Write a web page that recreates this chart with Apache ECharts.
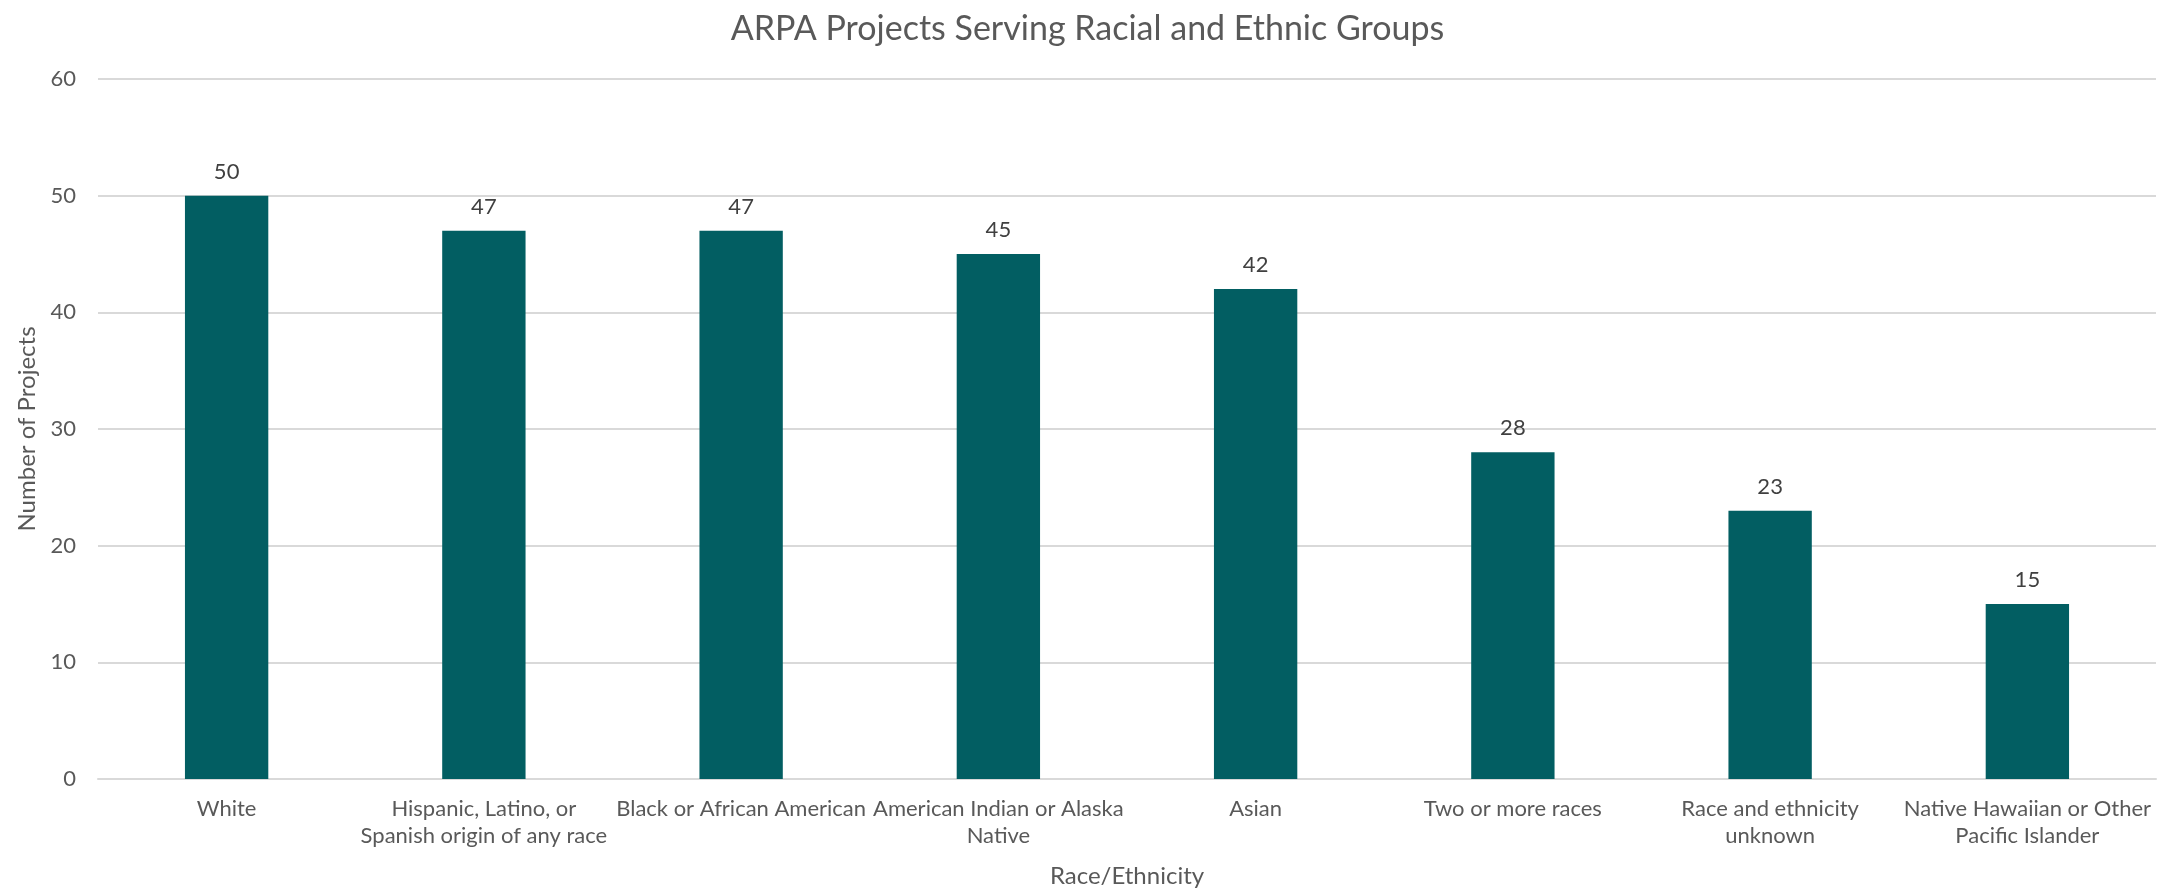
<!DOCTYPE html>
<html>
<head>
<meta charset="utf-8">
<title>ARPA Projects Serving Racial and Ethnic Groups</title>
<script src="https://cdn.jsdelivr.net/npm/echarts@6/dist/echarts.min.js"></script>
<style>
  html, body { margin: 0; padding: 0; background: #ffffff; }
  #chart { width: 2175px; height: 893px; }
</style>
</head>
<body>
<div id="chart"></div>
<script>
// Race/ethnicity groups (line breaks as shown under the axis)
const categories = [
  'White',
  'Hispanic, Latino, or\nSpanish origin of any race',
  'Black or African American',
  'American Indian or Alaska\nNative',
  'Asian',
  'Two or more races',
  'Race and ethnicity\nunknown',
  'Native Hawaiian or Other\nPacific Islander'
];

// Number of projects serving each group
const projectCounts = [50, 47, 47, 45, 42, 28, 23, 15];

// Value axis ticks
const yMin = 0;
const yMax = 60;
const yStep = 10;

const FONT = 'Lato, "Open Sans", sans-serif';
const TEXT_GRAY = '#595959';

const chart = echarts.init(document.getElementById('chart'), null, { renderer: 'canvas' });

chart.setOption({
  animation: false,
  backgroundColor: '#ffffff',
  textStyle: { fontFamily: FONT },
  title: {
    text: 'ARPA Projects Serving Racial and Ethnic Groups',
    left: 'center',
    top: 7,
    textStyle: { fontFamily: FONT, fontSize: 34, fontWeight: 'normal', color: TEXT_GRAY }
  },
  grid: { left: 98, right: 19, top: 79, bottom: 112, containLabel: false },
  xAxis: {
    type: 'category',
    data: categories,
    name: 'Race/Ethnicity',
    nameLocation: 'middle',
    nameGap: 85,
    nameTextStyle: { fontFamily: FONT, fontSize: 24, color: TEXT_GRAY },
    axisLine: { show: true, lineStyle: { color: '#d9d9d9', width: 2 } },
    axisTick: { show: false },
    axisLabel: {
      interval: 0,
      margin: 16,
      fontFamily: FONT,
      fontSize: 22,
      lineHeight: 27,
      color: TEXT_GRAY
    }
  },
  yAxis: {
    type: 'value',
    min: yMin,
    max: yMax,
    interval: yStep,
    name: 'Number of Projects',
    nameLocation: 'middle',
    nameGap: 58,
    nameRotate: 90,
    nameTextStyle: { fontFamily: FONT, fontSize: 24, color: TEXT_GRAY },
    axisLine: { show: false },
    axisTick: { show: false },
    axisLabel: { margin: 22, fontFamily: FONT, fontSize: 22, color: TEXT_GRAY },
    splitLine: { show: true, lineStyle: { color: '#d9d9d9', width: 2 } }
  },
  series: [{
    type: 'bar',
    data: projectCounts,
    barWidth: '32.4%',
    itemStyle: { color: '#025e62' },
    label: {
      show: true,
      position: 'top',
      distance: 13,
      fontFamily: FONT,
      fontSize: 22,
      color: '#404040'
    }
  }]
});
</script>
</body>
</html>
